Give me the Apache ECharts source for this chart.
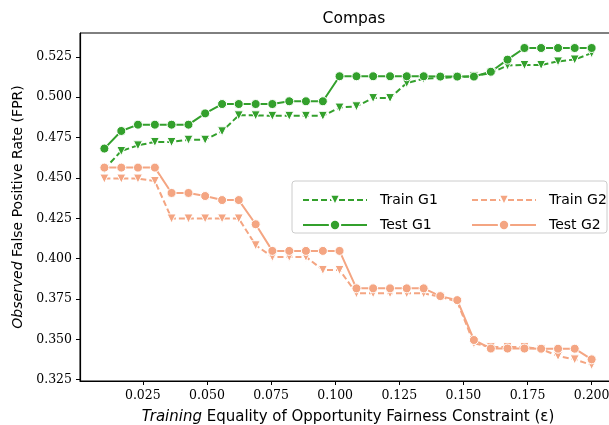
<!DOCTYPE html>
<html>
<head>
<meta charset="utf-8">
<script src="https://cdn.jsdelivr.net/npm/echarts@6/dist/echarts.min.js"></script>
<style>
  html, body { margin: 0; padding: 0; background: #fff; }
  #chart { width: 609px; height: 425px; }
</style>
</head>
<body>
<div id="chart"></div>
<script>
// epsilon values (training fairness constraint)
const eps = [0.0100, 0.0166, 0.0231, 0.0297, 0.0362, 0.0428, 0.0493, 0.0559, 0.0624, 0.0690,
             0.0755, 0.0821, 0.0886, 0.0952, 0.1017, 0.1083, 0.1148, 0.1214, 0.1279, 0.1345,
             0.1410, 0.1476, 0.1541, 0.1607, 0.1672, 0.1738, 0.1803, 0.1869, 0.1934, 0.2000];

const trainG1 = [0.4555, 0.4667, 0.4702, 0.4723, 0.4723, 0.4737, 0.4737, 0.4789, 0.4888, 0.4888,
                 0.4885, 0.4885, 0.4885, 0.4885, 0.4936, 0.4944, 0.4995, 0.4995, 0.5088, 0.5115,
                 0.5120, 0.5125, 0.5130, 0.5150, 0.5197, 0.5200, 0.5200, 0.5222, 0.5234, 0.5273];
const testG1 = [0.4682, 0.4791, 0.4830, 0.4830, 0.4830, 0.4830, 0.4900, 0.4958, 0.4958, 0.4958,
                0.4958, 0.4975, 0.4975, 0.4975, 0.5130, 0.5130, 0.5130, 0.5130, 0.5130, 0.5130,
                0.5128, 0.5128, 0.5128, 0.5158, 0.5233, 0.5305, 0.5305, 0.5305, 0.5305, 0.5305];
const trainG2 = [0.4496, 0.4496, 0.4496, 0.4481, 0.4249, 0.4249, 0.4249, 0.4249, 0.4249, 0.4083,
                 0.4011, 0.4011, 0.4011, 0.3930, 0.3930, 0.3785, 0.3785, 0.3785, 0.3785, 0.3785,
                 0.3764, 0.3733, 0.3475, 0.3452, 0.3452, 0.3452, 0.3440, 0.3397, 0.3376, 0.3341];
const testG2 = [0.4564, 0.4564, 0.4564, 0.4564, 0.4407, 0.4407, 0.4388, 0.4363, 0.4363, 0.4213,
                0.4048, 0.4048, 0.4048, 0.4048, 0.4048, 0.3816, 0.3816, 0.3816, 0.3816, 0.3816,
                0.3768, 0.3743, 0.3496, 0.3443, 0.3443, 0.3443, 0.3442, 0.3442, 0.3442, 0.3376];

const xTicks = [0.025, 0.050, 0.075, 0.100, 0.125, 0.150, 0.175, 0.200];
const yTicks = [0.325, 0.350, 0.375, 0.400, 0.425, 0.450, 0.475, 0.500, 0.525];

const green = '#33a02c';
const salmon = '#f4a582';

function pairs(ys) { return eps.map((x, i) => [x, ys[i]]); }

function mkSeries(name, ys, color, train) {
  return {
    name: name,
    type: 'line',
    data: pairs(ys),
    symbol: train ? 'triangle' : 'circle',
    symbolRotate: train ? 180 : 0,
    symbolSize: 9,
    showSymbol: true,
    animation: false,
    lineStyle: { color: color, width: 2, type: train ? [6, 3] : 'solid' },
    itemStyle: { color: color, borderColor: '#fff', borderWidth: 1 }
  };
}

const legendText = { fontFamily: 'DejaVu Sans', fontSize: 14, color: '#000', padding: [0, 0, 0, 8] };

let chart = echarts.init(document.getElementById('chart'));
chart.setOption({
  animation: false,
  title: {
    text: 'Compas',
    left: 349, top: 6, textAlign: 'center',
    textStyle: { fontFamily: 'DejaVu Sans', fontSize: 15.5, fontWeight: 'normal', color: '#000' }
  },
  // plot runs past the right edge of the window, like the reference
  grid: {
    left: 80, top: 33, bottom: 44, width: 536, outerBoundsMode: 'none',
    show: true, borderColor: '#000', borderWidth: 1
  },
  xAxis: {
    type: 'value', min: 0.0005, max: 0.2095,
    axisLine: { lineStyle: { color: '#000', width: 1.2 } },
    axisTick: { customValues: xTicks, length: 4, lineStyle: { color: '#000' } },
    axisLabel: {
      customValues: xTicks, margin: 8, color: '#000',
      fontFamily: 'DejaVu Serif', fontSize: 12.5,
      formatter: v => v.toFixed(3)
    },
    splitLine: { show: false },
    name: '{i|Training} Equality of Opportunity Fairness Constraint (ε)',
    nameLocation: 'middle', nameGap: 29,
    nameTextStyle: {
      fontFamily: 'DejaVu Sans', fontSize: 15, color: '#000',
      rich: { i: { fontStyle: 'italic', fontFamily: 'DejaVu Sans', fontSize: 15, color: '#000' } }
    }
  },
  yAxis: {
    type: 'value', min: 0.3242, max: 0.5398,
    axisLine: { show: true, lineStyle: { color: '#000', width: 1.2 } },
    axisTick: { show: true, customValues: yTicks, length: 4, lineStyle: { color: '#000' } },
    axisLabel: {
      customValues: yTicks, margin: 8, color: '#000',
      fontFamily: 'DejaVu Serif', fontSize: 12.5,
      formatter: v => v.toFixed(3)
    },
    splitLine: { show: false },
    name: '{i|Observed} False Positive Rate (FPR)',
    nameLocation: 'middle', nameGap: 55, nameRotate: 90,
    nameTextStyle: {
      fontFamily: 'DejaVu Sans', fontSize: 14, color: '#000',
      rich: { i: { fontStyle: 'italic', fontFamily: 'DejaVu Sans', fontSize: 14, color: '#000' } }
    }
  },
  graphic: [{
    type: 'rect', z: 90,
    shape: { x: 292, y: 181, width: 315, height: 52, r: 3 },
    style: { fill: 'rgba(255,255,255,0.8)', stroke: '#ccc', lineWidth: 1 }
  }],
  legend: [
    {
      data: ['Train G1', 'Test G1'], orient: 'vertical', left: 297, top: 188,
      itemWidth: 64, itemHeight: 13, itemGap: 11, z: 100, textStyle: legendText
    },
    {
      data: ['Train G2', 'Test G2'], orient: 'vertical', left: 466, top: 188,
      itemWidth: 64, itemHeight: 13, itemGap: 11, z: 100, textStyle: legendText
    }
  ],
  series: [
    mkSeries('Train G1', trainG1, green, true),
    mkSeries('Test G1', testG1, green, false),
    mkSeries('Train G2', trainG2, salmon, true),
    mkSeries('Test G2', testG2, salmon, false)
  ]
});
</script>
</body>
</html>
